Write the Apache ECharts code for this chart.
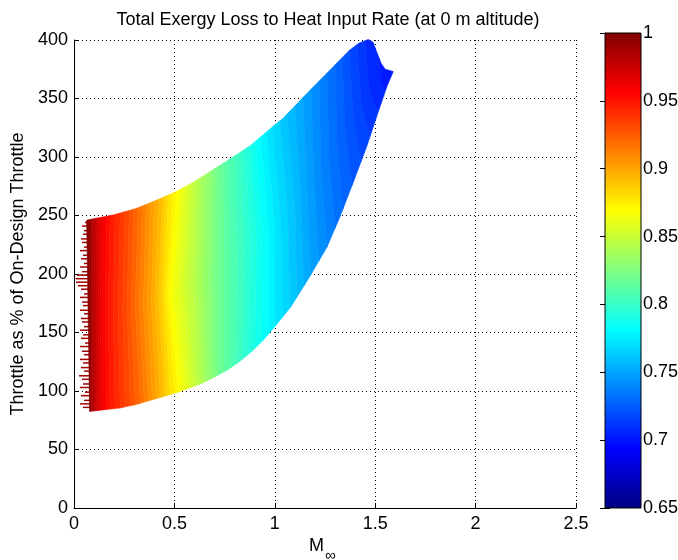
<!DOCTYPE html>
<html><head><meta charset="utf-8">
<script src="https://cdn.jsdelivr.net/npm/echarts@6/dist/echarts.min.js"></script>
<style>html,body{margin:0;padding:0;background:#fff}#c{width:678px;height:560px}</style>
</head><body><div id="c"></div>
<script>
// ---- data ----
// contour levels and the Mach number where each contour meets the lower edge, middle and upper edge of the region
const levels = [0.99,0.98,0.97,0.96,0.95,0.94,0.93,0.92,0.91,0.90,0.89,0.88,0.87,0.86,0.85,0.84,0.83,0.82,0.81,0.80,0.79,0.78,0.77,0.76,0.75,0.74,0.73,0.72,0.71];
const mLower = [0.085,0.10,0.12,0.145,0.18,0.23,0.28,0.33,0.37,0.41,0.45,0.48,0.52,0.56,0.60,0.64,0.68,0.72,0.78,0.84,0.90,0.97,1.04,1.11,1.18,1.26,1.34,1.43,1.52];
const mMid   = [0.085,0.10,0.12,0.14,0.17,0.22,0.265,0.305,0.345,0.385,0.42,0.45,0.475,0.52,0.57,0.62,0.67,0.72,0.78,0.85,0.91,0.97,1.03,1.10,1.16,1.23,1.31,1.39,1.47];
const mUpper = [0.085,0.10,0.12,0.145,0.18,0.23,0.275,0.32,0.36,0.40,0.44,0.47,0.51,0.55,0.59,0.63,0.68,0.72,0.77,0.83,0.88,0.93,0.99,1.06,1.14,1.22,1.30,1.37,1.45];
// value at the left (ragged) edge and at the right tip of the region
const leftEdgeValue = 1.0;
const tipValue = 0.70;
// region boundaries (Mach, throttle %)
const lowerM = [0.078,0.15,0.23,0.31,0.40,0.51,0.63,0.70,0.76,0.82,0.88,0.94,1.00,1.08,1.175,1.26,1.325,1.39,1.458,1.524,1.56,1.59];
const lowerT = [82.5,84,85.5,88.5,93,98.5,106,112,117.5,124.5,133,143,155,172,198,223,249,278,309,343,361,373];
const upperM = [0.063,0.196,0.31,0.41,0.51,0.60,0.70,0.80,0.88,0.99,1.04,1.175,1.29,1.37,1.42,1.466,1.49,1.505,1.53,1.55,1.59];
const upperT = [246,250.5,256,263,270.5,279,290,301,310,326,333,357,377,391,397.5,400.5,398,391,380,375,373];
// ragged left edge: throttle of each stray line and the Mach number it reaches
const combT = [86,89,92,96,99,103,106,110,113,117,120,124,127,131,134,138,141,145,148,152,155,159,162,166,169,173,176,180,183,187,190,193,196,199,202,206,209,213,216,220,223,227,230,234,237,241,244];
const combTip = [0.045,0.030,0.050,0.035,0.055,0.030,0.045,0.040,0.025,0.050,0.035,0.045,0.030,0.050,0.040,0.030,0.055,0.035,0.045,0.030,0.050,0.040,0.035,0.050,0.030,0.045,0.040,0.030,0.050,0.035,0.020,0.010,0.008,0.015,0.040,0.030,0.050,0.035,0.045,0.030,0.050,0.040,0.035,0.045,0.050,0.040,0.055];
const combBase = 0.085;
const colorRange = [0.65, 1];
const jet = ['#000080','#0000ff','#0080ff','#00ffff','#80ff80','#ffff00','#ff8000','#ff0000','#800000'];
const FONT = 'Liberation Sans, Arial, sans-serif';
const SUB = 2; // drawing stripes per band

// ---- helpers ----
function clamp(x) { return Math.max(0, Math.min(1, x)); }
function jetColor(v) {
  const t = (v - colorRange[0]) / (colorRange[1] - colorRange[0]);
  const r = clamp(1.5 - Math.abs(4 * t - 3)), g = clamp(1.5 - Math.abs(4 * t - 2)), b = clamp(1.5 - Math.abs(4 * t - 1));
  return 'rgb(' + Math.round(r * 255) + ',' + Math.round(g * 255) + ',' + Math.round(b * 255) + ')';
}
function interp(xs, ys, x) {
  if (x <= xs[0]) return ys[0];
  for (let i = 1; i < xs.length; i++) {
    if (x <= xs[i]) { const t = (x - xs[i-1]) / (xs[i] - xs[i-1]); return ys[i-1] + t * (ys[i] - ys[i-1]); }
  }
  return ys[ys.length - 1];
}
function ptAt(m, f) {
  const lo = interp(lowerM, lowerT, m), hi = interp(upperM, upperT, m);
  return [m, lo + f * (hi - lo)];
}
function contourM(k, f) {
  if (k < 0) return lowerM[0] + (upperM[0] - lowerM[0]) * f;
  if (k >= levels.length) return lowerM[lowerM.length - 1];
  if (f <= 0.5) return mLower[k] + (mMid[k] - mLower[k]) * (f / 0.5);
  return mMid[k] + (mUpper[k] - mMid[k]) * ((f - 0.5) / 0.5);
}
function levelAt(k) { return k < 0 ? leftEdgeValue : (k >= levels.length ? tipValue : levels[k]); }
const FS = [0,0.1,0.2,0.3,0.4,0.5,0.6,0.7,0.8,0.9,1];
function stripPolygon(a, b, s0, s1) {
  const mAt = (s, f) => (1 - s) * contourM(a, f) + s * contourM(b, f);
  const pts = [];
  for (let j = FS.length - 1; j >= 0; j--) pts.push(ptAt(mAt(s0, FS[j]), FS[j]));
  const mA0 = mAt(s0, 0), mA1 = mAt(s0, 1), mB0 = mAt(s1, 0), mB1 = mAt(s1, 1);
  for (let j = 0; j < lowerM.length; j++) if (lowerM[j] > mA0 && lowerM[j] < mB0) pts.push([lowerM[j], lowerT[j]]);
  for (let j = 0; j < FS.length; j++) pts.push(ptAt(mAt(s1, FS[j]), FS[j]));
  for (let j = upperM.length - 1; j >= 0; j--) if (upperM[j] < mB1 && upperM[j] > mA1) pts.push([upperM[j], upperT[j]]);
  return pts;
}
const bands = [];
for (let i = 0; i <= levels.length; i++) bands.push([i - 1, i]);

const chart = echarts.init(document.getElementById('c'), null, {renderer: 'canvas'});
const axisCommon = {
  axisLine: {show: true, onZero: false, lineStyle: {color: '#000', width: 1}},
  axisTick: {show: true, inside: true, length: 5, lineStyle: {color: '#000'}},
  axisLabel: {color: '#000', fontSize: 18, fontFamily: FONT},
  splitLine: {show: true, lineStyle: {color: '#000', type: [1, 3], width: 1}}
};
chart.setOption({
  animation: false,
  backgroundColor: '#fff',
  title: {text: 'Total Exergy Loss to Heat Input Rate (at 0 m altitude)', left: 323, top: 6, textAlign: 'center',
    textStyle: {fontSize: 18, fontWeight: 'normal', fontFamily: FONT, color: '#000'}},
  grid: [
    {left: 74, top: 40, width: 502, height: 468, containLabel: false, outerBoundsMode: 'none'},
    {left: 605, top: 33, width: 36, height: 475, containLabel: false, outerBoundsMode: 'none'}
  ],
  xAxis: [
    Object.assign({}, axisCommon, {type: 'value', gridIndex: 0, min: 0, max: 2.5, interval: 0.5,
      axisLabel: Object.assign({}, axisCommon.axisLabel, {margin: 7})}),
    {type: 'value', gridIndex: 1, min: 0, max: 1, show: false}
  ],
  yAxis: [
    Object.assign({}, axisCommon, {type: 'value', gridIndex: 0, min: 0, max: 400, interval: 50,
      axisLabel: Object.assign({}, axisCommon.axisLabel, {margin: 6}),
      name: 'Throttle as % of On-Design Throttle', nameLocation: 'middle', nameGap: 44, nameRotate: 90,
      nameTextStyle: {fontSize: 18, fontFamily: FONT, color: '#000'}}),
    {type: 'value', gridIndex: 1, min: colorRange[0], max: colorRange[1], interval: 0.05, position: 'right',
      axisLine: {show: true, lineStyle: {color: '#000'}}, axisTick: {show: true, inside: true, length: 5, lineStyle: {color: '#000'}},
      axisLabel: {color: '#000', fontSize: 18, fontFamily: FONT, margin: 2, padding: [6, 0, 0, 0]}, splitLine: {show: false}},
    {type: 'value', gridIndex: 1, min: colorRange[0], max: colorRange[1], interval: 0.05, position: 'left',
      axisLine: {show: true, lineStyle: {color: '#000'}}, axisTick: {show: true, inside: true, length: 5, lineStyle: {color: '#000'}},
      axisLabel: {show: false}, splitLine: {show: false}}
  ],
  graphic: [
    {type: 'text', left: 309, top: 537, style: {text: 'M', fontSize: 18, fontFamily: FONT, fill: '#000'}},
    {type: 'text', left: 325, top: 548, style: {text: '\u221e', fontSize: 15, fontFamily: FONT, fill: '#000'}}
  ],
  series: [
    {type: 'custom', xAxisIndex: 0, yAxisIndex: 0, z: 1,
      data: combT.map((t, i) => [combTip[i], t]),
      renderItem: function (params, api) {
        const t = api.value(1), p1 = api.coord([api.value(0), t]), p2 = api.coord([combBase, t]);
        return {type: 'line', shape: {x1: p1[0], y1: p1[1], x2: p2[0], y2: p2[1]},
          style: {stroke: '#a00000', lineWidth: 1.5}};
      }},
    {type: 'custom', xAxisIndex: 0, yAxisIndex: 0, z: 2,
      data: bands,
      renderItem: function (params, api) {
        const a = api.value(0), b = api.value(1);
        const va = levelAt(a), vb = levelAt(b);
        const children = [];
        for (let s = 0; s < SUB; s++) {
          const v = va + (vb - va) * (s + 0.5) / SUB;
          const c = jetColor(v);
          const pts = stripPolygon(a, b, s / SUB, (s + 1) / SUB).map(p => api.coord(p));
          children.push({type: 'polygon', shape: {points: pts}, style: {fill: c, stroke: c, lineWidth: 0.6}});
        }
        return {type: 'group', children: children};
      }},
    {type: 'custom', xAxisIndex: 1, yAxisIndex: 1, z: 1,
      data: [[0, colorRange[1]]],
      renderItem: function (params, api) {
        const p1 = api.coord([0, colorRange[1]]), p2 = api.coord([1, colorRange[0]]);
        const stops = jet.slice().reverse().map((c, i) => ({offset: i / (jet.length - 1), color: c}));
        return {type: 'rect', shape: {x: p1[0], y: p1[1], width: p2[0] - p1[0], height: p2[1] - p1[1]},
          style: {fill: new echarts.graphic.LinearGradient(0, 0, 0, 1, stops), stroke: '#000', lineWidth: 1}};
      }}
  ]
});
</script></body></html>
